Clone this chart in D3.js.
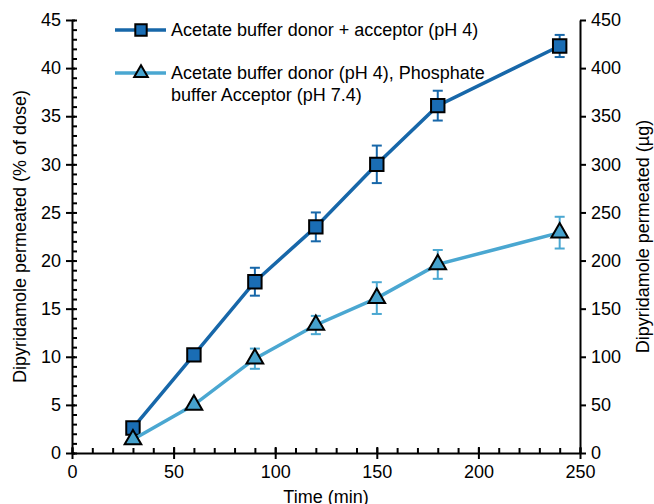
<!DOCTYPE html>
<html>
<head>
<meta charset="utf-8">
<script src="https://cdn.jsdelivr.net/npm/d3@7"></script>
<style>
  body { margin: 0; background: #fff; }
  text { font-family: "Liberation Sans", Arial, sans-serif; }
</style>
</head>
<body>
<div id="chart-area"></div>
<script>
// time points (min)
var times = [30, 60, 90, 120, 150, 180, 240];

// acetate donor + acceptor (pH 4), % of dose
var acetateMean = [2.6, 10.2, 17.8, 23.5, 30.0, 36.1, 42.3];
var acetateErr = [0, 0, 1.45, 1.5, 1.95, 1.55, 1.15];

// acetate donor, phosphate acceptor (pH 7.4)
var phosphateMean = [1.4, 5.0, 9.8, 13.3, 16.1, 19.6, 22.9];
var phosphateErr = [0, 0, 1.05, 0.95, 1.65, 1.5, 1.65];

var xTicks = [0, 50, 100, 150, 200, 250];
var yTicks = [0, 5, 10, 15, 20, 25, 30, 35, 40, 45];
var y2Ticks = [0, 50, 100, 150, 200, 250, 300, 350, 400, 450];

var width = 654, height = 504;
var mLeft = 72, mRight = 580, mTop = 20, mBottom = 453;
var fs = 18;

var dark = "#1767a9", darkFill = "#1a6db4";
var light = "#4aa7d1", lightFill = "#46a2cd";

var svg = d3
  .select("#chart-area")
  .append("svg")
  .attr("width", width)
  .attr("height", height);

var x = d3.scaleLinear().domain([0, 250]).range([mLeft, mRight]);
var y = d3.scaleLinear().domain([0, 45]).range([mBottom, mTop]);
var y2 = d3.scaleLinear().domain([0, 450]).range([mBottom, mTop]);

// minor ticks (inside)
svg.append("g")
  .attr("transform", "translate(0," + mBottom + ")")
  .call(d3.axisTop(x).tickValues(d3.range(0, 251, 10)).tickSize(5).tickFormat(""))
  .call(g => g.select(".domain").remove());
svg.append("g")
  .attr("transform", "translate(" + mLeft + ",0)")
  .call(d3.axisRight(y).tickValues(d3.range(0, 46, 1)).tickSize(5).tickFormat(""))
  .call(g => g.select(".domain").remove());
// major ticks crossing inside
svg.append("g")
  .attr("transform", "translate(0," + mBottom + ")")
  .call(d3.axisTop(x).tickValues(xTicks).tickSize(6).tickFormat(""))
  .call(g => g.select(".domain").remove());
svg.append("g")
  .attr("transform", "translate(" + mLeft + ",0)")
  .call(d3.axisRight(y).tickValues(yTicks).tickSize(3).tickFormat(""))
  .call(g => g.select(".domain").remove());

svg.append("g")
  .attr("transform", "translate(0," + mBottom + ")")
  .call(d3.axisBottom(x).tickValues(xTicks).tickSizeInner(6).tickSizeOuter(0).tickPadding(6));
svg.append("g")
  .attr("transform", "translate(" + mLeft + ",0)")
  .call(d3.axisLeft(y).tickValues(yTicks).tickSizeInner(6).tickSizeOuter(0).tickPadding(5));
svg.append("g")
  .attr("transform", "translate(" + mRight + ",0)")
  .call(d3.axisRight(y2).tickValues(y2Ticks).tickSizeInner(6).tickSizeOuter(0).tickPadding(5));

svg.selectAll(".tick text").attr("font-size", fs).attr("fill", "#000")
  .style("font-family", "Liberation Sans, Arial, sans-serif");
svg.selectAll(".domain, .tick line").attr("stroke", "#000").attr("stroke-width", 2);

// axis titles
svg.append("text")
  .attr("transform", "translate(26," + (mTop + mBottom) / 2 + ") rotate(-90)")
  .attr("text-anchor", "middle")
  .attr("font-size", fs)
  .text("Dipyridamole permeated (% of dose)");
svg.append("text")
  .attr("transform", "translate(649," + (mTop + mBottom) / 2 + ") rotate(-90)")
  .attr("text-anchor", "middle")
  .attr("font-size", fs)
  .text("Dipyridamole permeated (µg)");
svg.append("text")
  .attr("x", x(125))
  .attr("y", 503)
  .attr("text-anchor", "middle")
  .attr("font-size", fs)
  .text("Time (min)");

function series(means, errs, lineColor, fillColor, symbol, size) {
  var pts = times.map((t, i) => ({ t: t, m: means[i], e: errs[i] }));
  var g = svg.append("g");
  g.append("path")
    .datum(pts)
    .attr("fill", "none")
    .attr("stroke", lineColor)
    .attr("stroke-width", 3.5)
    .attr("d", d3.line().x(d => x(d.t)).y(d => y(d.m)));
  var eb = g.selectAll(".err")
    .data(pts.filter(d => d.e > 0))
    .enter()
    .append("g")
    .attr("stroke", lineColor)
    .attr("stroke-width", 2);
  eb.append("line")
    .attr("x1", d => x(d.t)).attr("x2", d => x(d.t))
    .attr("y1", d => y(d.m - d.e)).attr("y2", d => y(d.m + d.e));
  eb.append("line")
    .attr("x1", d => x(d.t) - 5).attr("x2", d => x(d.t) + 5)
    .attr("y1", d => y(d.m - d.e)).attr("y2", d => y(d.m - d.e));
  eb.append("line")
    .attr("x1", d => x(d.t) - 5).attr("x2", d => x(d.t) + 5)
    .attr("y1", d => y(d.m + d.e)).attr("y2", d => y(d.m + d.e));
  g.selectAll(".mk")
    .data(pts)
    .enter()
    .append("path")
    .attr("d", d3.symbol().type(symbol).size(size))
    .attr("transform", d => "translate(" + x(d.t) + "," + y(d.m) + ")")
    .attr("fill", fillColor)
    .attr("stroke", "#000")
    .attr("stroke-width", 2);
}

series(acetateMean, acetateErr, dark, darkFill, d3.symbolSquare, 180);
series(phosphateMean, phosphateErr, light, lightFill, d3.symbolTriangle, 120);

// legend
var legend = [
  { y: 30, color: dark, fill: darkFill, sym: d3.symbolSquare, size: 130, lines: ["Acetate buffer donor + acceptor (pH 4)"] },
  { y: 73, color: light, fill: lightFill, sym: d3.symbolTriangle, size: 80, lines: ["Acetate buffer donor (pH 4), Phosphate", "buffer Acceptor (pH 7.4)"] }
];
var lg = svg.selectAll(".lg").data(legend).enter().append("g");
lg.append("line")
  .attr("x1", 115).attr("x2", 166)
  .attr("y1", d => d.y).attr("y2", d => d.y)
  .attr("stroke", d => d.color).attr("stroke-width", 3.5);
lg.append("path")
  .attr("d", d => d3.symbol().type(d.sym).size(d.size)())
  .attr("transform", d => "translate(141," + d.y + ")")
  .attr("fill", d => d.fill)
  .attr("stroke", "#000")
  .attr("stroke-width", 2);
lg.each(function (d) {
  var t = d3.select(this).append("text")
    .attr("x", 171)
    .attr("y", d.y + 6)
    .attr("font-size", fs);
  d.lines.forEach((s, i) => {
    t.append("tspan").attr("x", 171).attr("dy", i ? 22 : 0).text(s);
  });
});
</script>
</body>
</html>
